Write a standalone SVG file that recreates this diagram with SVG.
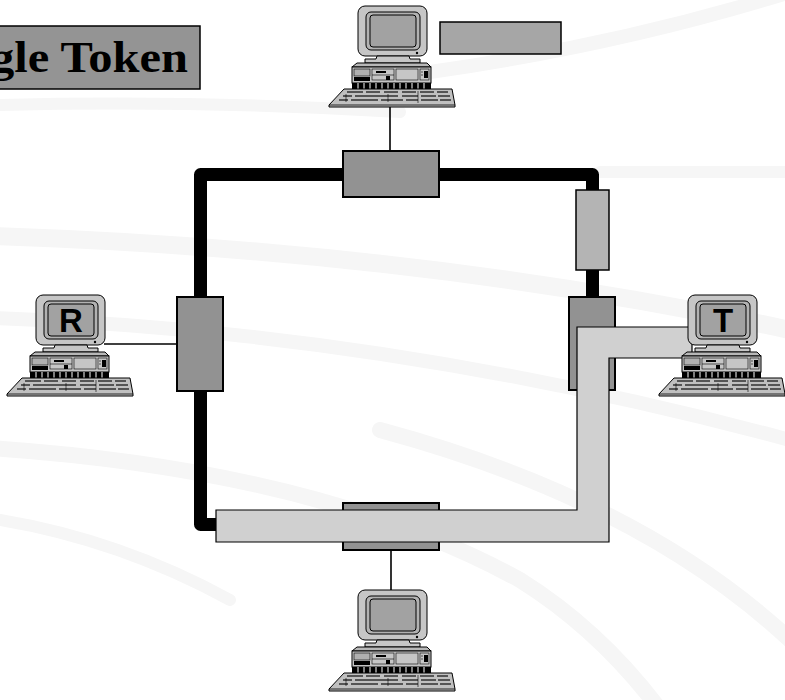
<svg xmlns="http://www.w3.org/2000/svg" xmlns:xlink="http://www.w3.org/1999/xlink" width="785" height="700" viewBox="0 0 785 700">
  <style>
    .swoosh { fill: none; stroke: #f6f6f6; stroke-linecap: round; }
    .adapter { fill: #929292; stroke: #000; stroke-width: 2; }
    .ol { stroke: #000; stroke-width: 1; }
    .wire { stroke: #000; stroke-width: 1.6; fill: none; }
    .ring { fill: none; stroke: #000; stroke-width: 13; stroke-linejoin: round; }
    .token { fill: #d0d0d0; stroke: #000; stroke-width: 1.2; }
    .letter { font-family: "Liberation Sans", Arial, sans-serif; font-weight: bold; font-size: 33px; fill: #000; text-anchor: middle; }
    .title { font-family: "Liberation Serif", "Times New Roman", serif; font-weight: bold; font-size: 44px; fill: #000; }
  </style>
  <defs>
    <!-- desktop PC: monitor, system unit, keyboard; origin = monitor top-left -->
    <g id="pc">
      <rect class="ol" x="0" y="0" width="69" height="50" rx="7" fill="#c6c6c6"/>
      <rect class="ol" x="8" y="6" width="54" height="38" rx="5" fill="#b2b2b2"/>
      <rect class="ol" x="12" y="9" width="46" height="32" rx="3" fill="#a2a2a2"/>
      <circle cx="59" cy="47" r="1.2" fill="#000"/>
      <path class="ol" d="M19 50 H51 L52 53 H62 V57 H7 V53 H18 Z" fill="#c6c6c6"/>
      <path class="ol" d="M-1 57 H69 L73 61 H-6 Z" fill="#b8b8b8"/>
      <rect class="ol" x="-6" y="61" width="79" height="16" fill="#c6c6c6"/>
      <!-- drive bays -->
      <rect x="-4" y="63" width="16" height="7" fill="#b0b0b0" stroke="#000" stroke-width="0.6"/>
      <rect x="-4" y="71" width="16" height="4" fill="#000"/>
      <rect x="14" y="63" width="22" height="11" fill="#c6c6c6" stroke="#000" stroke-width="0.6"/>
      <rect x="18" y="65" width="10" height="2" fill="#000"/>
      <line x1="14" y1="69" x2="36" y2="69" stroke="#000" stroke-width="0.6"/>
      <rect x="28" y="70" width="4" height="4" fill="#000"/>
      <rect x="38" y="63" width="22" height="11" fill="#c6c6c6" stroke="#000" stroke-width="0.6"/>
      <rect x="62" y="63" width="9" height="11" fill="#c6c6c6" stroke="#000" stroke-width="0.6"/>
      <rect x="66" y="65" width="4" height="7" fill="#000"/>
      <line x1="63" y1="66" x2="65" y2="66" stroke="#000" stroke-width="0.6"/>
      <line x1="63" y1="69" x2="65" y2="69" stroke="#000" stroke-width="0.6"/>
      <!-- key row behind keyboard -->
      <rect x="-6" y="77" width="79" height="6" fill="#000"/>
      <path d="M0 77 V83 M6 77 V83 M12 77 V83 M18 77 V83 M24 77 V83 M30 77 V83 M36 77 V83 M42 77 V83 M48 77 V83 M54 77 V83 M60 77 V83 M66 77 V83" stroke="#fff" stroke-width="1"/>
      <!-- keyboard -->
      <path class="ol" d="M-14 83 H94 L97 99 V101 H-29 V99 Z" fill="#c0c0c0"/>
      <path d="M-29 99 H97" stroke="#000" stroke-width="0.8"/>
      <path d="M-11 86 H5 M8 86 H22 M26 86 H40 M44 86 H58 M62 86 H76 M79 86 H90" stroke="#555" stroke-width="2"/>
      <path d="M-15 90 H-6 M-3 90 H40 M44 90 H60 M63 90 H78 M80 90 H92" stroke="#555" stroke-width="2"/>
      <path d="M-19 94 H-10 M-7 94 H20 M23 94 H45 M48 94 H60 M63 94 H80 M82 94 H93" stroke="#555" stroke-width="2"/>
      <path d="M-12 88 V96 M30 88 V96 M60 85 V97" stroke="#000" stroke-width="0.6"/>
    </g>
  </defs>

  <rect width="785" height="700" fill="#fff"/>

  <!-- faint background sweeps -->
  <g id="background">
    <path class="swoosh" stroke-width="12" d="M 0 105 Q 200 100 400 112"/>
    <path class="swoosh" stroke-width="14" d="M 430 72 Q 620 45 790 -8"/>
    <path class="swoosh" stroke-width="12" d="M 600 172 H 790"/>
    <path class="swoosh" stroke-width="18" d="M -10 236 Q 420 250 790 330"/>
    <path class="swoosh" stroke-width="14" d="M -10 318 Q 380 330 790 440"/>
    <path class="swoosh" stroke-width="16" d="M -10 448 Q 320 470 520 580 Q 600 630 660 710"/>
    <path class="swoosh" stroke-width="16" d="M 380 430 Q 640 500 790 640"/>
    <path class="swoosh" stroke-width="12" d="M 0 520 Q 120 540 230 600"/>
  </g>

  <!-- title -->
  <g id="title">
    <rect x="-10" y="26" width="210" height="63" fill="#949494" stroke="#000" stroke-width="1.5"/>
    <text class="title" x="-10" y="72" textLength="198" lengthAdjust="spacingAndGlyphs">gle Token</text>
  </g>

  <!-- connectors: ring, drop cables, token path -->
  <g id="connectors">
    <path class="ring" d="M 218 524.5 H 200.5 V 174.5 H 592.5 V 300"/>
    <line class="wire" x1="390" y1="107" x2="390" y2="151"/>
    <line class="wire" x1="391" y1="550" x2="391" y2="592"/>
    <line class="wire" x1="104" y1="344" x2="177" y2="344"/>
  </g>

  <g id="adapter-top"><rect class="adapter" x="343" y="151" width="96" height="46"/></g>
  <g id="adapter-left"><rect class="adapter" x="177" y="297" width="46" height="94"/></g>
  <g id="adapter-right"><rect class="adapter" x="569" y="297" width="46" height="93" fill="#909090"/></g>
  <g id="adapter-bottom"><rect class="adapter" x="343" y="503" width="96" height="47"/></g>
  <g id="repeater"><rect x="576" y="190" width="33" height="80" fill="#b4b4b4" stroke="#000" stroke-width="1.5"/></g>
  <g id="label-box"><rect x="440" y="22" width="121" height="32" fill="#a6a6a6" stroke="#000" stroke-width="1.5"/></g>

  <!-- token path from T around to the bottom -->
  <g id="token-path">
    <polygon class="token" points="216,510 577,510 577,327 692,327 692,358 609,358 609,542 216,542"/>
  </g>

  <g id="pc-top"><use xlink:href="#pc" transform="translate(358,6)"/></g>
  <g id="pc-r">
    <use xlink:href="#pc" transform="translate(36,295)"/>
    <text class="letter" x="71" y="332">R</text>
  </g>
  <g id="pc-t">
    <use xlink:href="#pc" transform="translate(688,295)"/>
    <text class="letter" x="723" y="332">T</text>
  </g>
  <g id="pc-bottom"><use xlink:href="#pc" transform="translate(358,590)"/></g>
</svg>
